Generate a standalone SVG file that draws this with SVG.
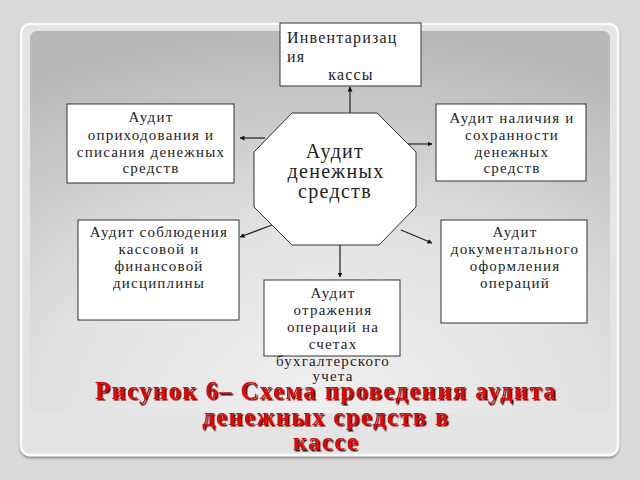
<svg xmlns="http://www.w3.org/2000/svg" width="640" height="480" viewBox="0 0 640 480">
<defs>
<style>
.box{fill:#fff;stroke:#333;stroke-width:1}
.t{font-family:"Liberation Serif","Times New Roman",serif;font-size:15px;letter-spacing:1.2px;fill:#222;text-anchor:middle}
.c{stroke:#222;stroke-width:1.2;fill:none;marker-end:url(#ah)}
.cap{font-family:"Liberation Serif","Times New Roman",serif;font-weight:bold;font-size:24.5px;letter-spacing:1.5px;fill:#ee0000;text-anchor:middle;filter:url(#sh)}
</style>
<marker id="ah" viewBox="0 0 10 10" refX="9" refY="5" markerWidth="5" markerHeight="5" orient="auto" markerUnits="userSpaceOnUse">
<path d="M0,0 L10,5 L0,10 z" fill="#111"/>
</marker>
<radialGradient id="bg" cx="0.5" cy="1" r="1" fx="0.5" fy="0.95">
<stop offset="0" stop-color="#efefef"/>
<stop offset="0.45" stop-color="#e2e2e2"/>
<stop offset="1" stop-color="#b8b8b8"/>
</radialGradient>
<filter id="sh" x="-5%" y="-20%" width="110%" height="150%">
<feDropShadow dx="1.5" dy="1.5" stdDeviation="0.3" flood-color="#000" flood-opacity="0.9"/>
</filter>
<filter id="cs" x="-5%" y="-5%" width="110%" height="110%">
<feDropShadow dx="0" dy="2" stdDeviation="1" flood-color="#000" flood-opacity="0.35"/>
</filter>
</defs>
<rect x="0" y="0" width="640" height="480" fill="#d9d9d9"/>
<rect x="21" y="24" width="597" height="431" rx="9" fill="#e4e4e4" stroke="#fafafa" stroke-width="2.5" filter="url(#cs)"/>
<rect x="30" y="31" width="580" height="382" rx="7" fill="url(#bg)"/>

<g id="connectors">
<line class="c" x1="350" y1="116" x2="350" y2="87"/>
<line class="c" x1="265" y1="138" x2="240" y2="138"/>
<line class="c" x1="407" y1="144" x2="432" y2="144"/>
<line class="c" x1="272" y1="225" x2="240" y2="237"/>
<line class="c" x1="401" y1="230" x2="432" y2="243"/>
<line class="c" x1="340" y1="245" x2="340" y2="277"/>
</g>

<g id="n-center">
<polygon class="box" points="292,113 377,113 416,152 416,207 379,245 292,245 254,207 254,152"/>
<text class="t" style="font-size:20px;letter-spacing:1.3px" x="335" y="158">Аудит</text>
<text class="t" style="font-size:20px;letter-spacing:1.3px" x="336" y="178">денежных</text>
<text class="t" style="font-size:20px;letter-spacing:1.3px" x="335" y="198">средств</text>
</g>

<g id="n-inventory">
<rect class="box" x="280" y="23" width="141" height="63"/>
<text class="t" style="font-size:16px;letter-spacing:1.2px;text-anchor:start" x="287" y="43">Инвентаризац</text>
<text class="t" style="font-size:16px;letter-spacing:1.2px;text-anchor:start" x="287" y="62">ия</text>
<text class="t" style="font-size:16px;letter-spacing:1.2px" x="351" y="80">кассы</text>
</g>

<g id="n-receipt">
<rect class="box" x="67" y="104" width="167" height="79"/>
<text class="t" x="151" y="122">Аудит</text>
<text class="t" x="151" y="140">оприходования и</text>
<text class="t" x="151" y="157">списания денежных</text>
<text class="t" x="151" y="173">средств</text>
</g>

<g id="n-presence">
<rect class="box" x="436" y="104" width="150" height="77"/>
<text class="t" x="512" y="123">Аудит наличия и</text>
<text class="t" x="512" y="140">сохранности</text>
<text class="t" x="512" y="157">денежных</text>
<text class="t" x="512" y="173">средств</text>
</g>

<g id="n-discipline">
<rect class="box" x="78" y="220" width="161" height="100"/>
<text class="t" x="159" y="237">Аудит соблюдения</text>
<text class="t" x="159" y="254">кассовой и</text>
<text class="t" x="159" y="271">финансовой</text>
<text class="t" x="159" y="288">дисциплины</text>
</g>

<g id="n-documents">
<rect class="box" x="441" y="220" width="146" height="103"/>
<text class="t" x="515" y="237">Аудит</text>
<text class="t" x="515" y="254">документального</text>
<text class="t" x="515" y="271">оформления</text>
<text class="t" x="515" y="288">операций</text>
</g>

<g id="n-accounts">
<rect class="box" x="264" y="280" width="136" height="76"/>
<text class="t" x="333" y="298">Аудит</text>
<text class="t" x="333" y="315">отражения</text>
<text class="t" x="333" y="332">операций на</text>
<text class="t" x="333" y="349">счетах</text>
<text class="t" x="333" y="366">бухгалтерского</text>
<text class="t" x="333" y="381">учета</text>
</g>

<g id="caption">
<text class="cap" x="326" y="399">Рисунок 6– Схема проведения аудита</text>
<text class="cap" x="326" y="425">денежных средств в</text>
<text class="cap" x="326" y="450">кассе</text>
</g>
</svg>
